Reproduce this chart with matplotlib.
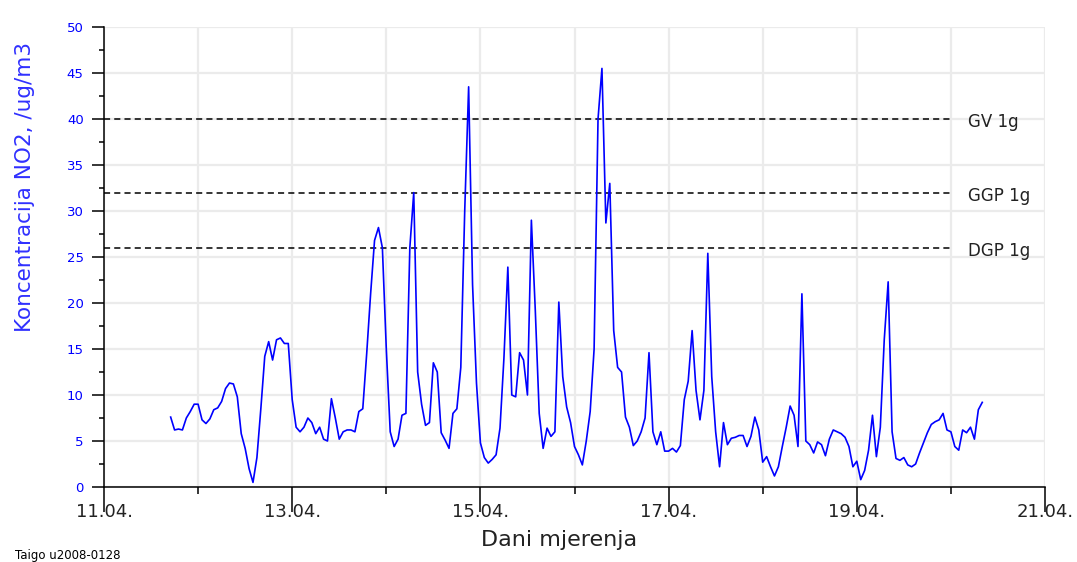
import matplotlib
matplotlib.use("Agg")
import matplotlib.pyplot as plt
import matplotlib.dates as mdates
import matplotlib.ticker as mticker
import pandas as pd

# Hourly NO2 concentrations (ug/m3), starting 11.04.2008 17:00
no2_11 = [7.6, 6.2, 6.3, 6.2, 7.5, 8.2, 9.0]
no2_12 = [9.0, 7.3, 6.9, 7.4, 8.4, 8.6, 9.3, 10.7, 11.3, 11.2, 9.8, 5.8,
          4.2, 2.0, 0.5, 3.2, 8.5, 14.2, 15.8, 13.8, 16.0, 16.2, 15.6, 15.6]
no2_13 = [9.5, 6.5, 6.0, 6.5, 7.5, 7.0, 5.8, 6.5, 5.2, 5.0, 9.6, 7.5,
          5.2, 6.0, 6.2, 6.2, 6.0, 8.2, 8.5, 14.5, 21.0, 26.8, 28.2, 26.0]
no2_14 = [15.0, 6.0, 4.4, 5.2, 7.8, 8.0, 26.0, 32.0, 12.5, 9.0, 6.7, 7.0,
          13.5, 12.5, 5.9, 5.1, 4.2, 8.0, 8.5, 13.0, 30.0, 43.5, 22.0, 11.3]
no2_15 = [4.8, 3.2, 2.6, 3.0, 3.5, 6.4, 14.0, 23.9, 10.0, 9.8, 14.6, 13.8,
          10.0, 29.0, 19.2, 8.0, 4.2, 6.4, 5.5, 6.0, 20.1, 12.0, 8.7, 7.0]
no2_16 = [4.4, 3.5, 2.4, 5.0, 8.2, 15.0, 40.0, 45.5, 28.7, 33.0, 17.0, 13.0,
          12.5, 7.6, 6.5, 4.5, 5.0, 6.0, 7.5, 14.6, 6.0, 4.6, 6.0, 3.9]
no2_17 = [3.9, 4.2, 3.8, 4.5, 9.5, 11.5, 17.0, 10.5, 7.3, 10.5, 25.4, 12.0,
          6.0, 2.2, 7.0, 4.6, 5.3, 5.4, 5.6, 5.6, 4.4, 5.5, 7.6, 6.2]
no2_18 = [2.7, 3.3, 2.2, 1.2, 2.2, 4.4, 6.5, 8.8, 7.8, 4.4, 21.0, 5.0,
          4.6, 3.7, 4.9, 4.6, 3.4, 5.2, 6.2, 6.0, 5.8, 5.4, 4.4, 2.2]
no2_19 = [2.8, 0.8, 1.8, 4.0, 7.8, 3.3, 6.5, 16.0, 22.3, 6.0, 3.1, 2.9,
          3.2, 2.4, 2.2, 2.5, 3.7, 4.8, 5.9, 6.8, 7.1, 7.3, 8.0, 6.2]
no2_20 = [6.0, 4.4, 4.0, 6.2, 5.9, 6.5, 5.2, 8.4, 9.2]

no2 = no2_11 + no2_12 + no2_13 + no2_14 + no2_15 + no2_16 + no2_17 + no2_18 + no2_19 + no2_20
times = pd.date_range("2008-04-11 17:00", periods=len(no2), freq="h")

# Limit values
limit_values = [40, 32, 26]
limit_labels = ["GV 1g", "GGP 1g", "DGP 1g"]

x_start = pd.Timestamp("2008-04-11")
x_end = pd.Timestamp("2008-04-21")
limit_end = pd.Timestamp("2008-04-20")

blue = "#0000ff"
dark = "#222222"

fig = plt.figure(figsize=(10.77, 5.62), dpi=100)
ax = fig.add_axes([104 / 1077, 1 - 487 / 562, (1045 - 104) / 1077, (487 - 27) / 562])

ax.plot(times, no2, color=blue, lw=1.2, zorder=3)

for val, lab in zip(limit_values, limit_labels):
    ax.plot([x_start, limit_end], [val, val], color="black", lw=1.1,
            ls=(0, (4, 2.7)), zorder=2)
    ax.annotate(lab, xy=(mdates.date2num(limit_end), val), xytext=(12, -2.2),
                textcoords="offset points", ha="left", va="center",
                fontsize=12, color=dark, annotation_clip=False)

ax.set_xlim(x_start, x_end)
ax.set_ylim(0, 50)

ax.xaxis.set_major_locator(mdates.DayLocator(bymonthday=[11, 13, 15, 17, 19, 21]))
ax.xaxis.set_minor_locator(mdates.DayLocator(bymonthday=[12, 14, 16, 18, 20]))
ax.xaxis.set_major_formatter(mdates.DateFormatter("%d.%m."))
ax.yaxis.set_major_locator(mticker.MultipleLocator(5))
ax.yaxis.set_minor_locator(mticker.MultipleLocator(2.5))

ax.grid(which="both", axis="x", color="#ebebeb", lw=1.6, zorder=0)
ax.grid(which="major", axis="y", color="#ebebeb", lw=1.6, zorder=0)
ax.set_axisbelow(True)

for side in ("top", "right"):
    ax.spines[side].set_visible(False)
for side in ("left", "bottom"):
    ax.spines[side].set_linewidth(1.1)
    ax.spines[side].set_color("black")

ax.tick_params(axis="x", which="major", direction="out", length=18, width=1.1,
               pad=-6.5, labelsize=13, labelcolor=dark)
ax.tick_params(axis="x", which="minor", direction="out", length=5, width=1.1)
ax.tick_params(axis="y", which="major", direction="out", length=8.6, width=1.1,
               pad=6, labelsize=9.5, labelcolor=blue)
ax.tick_params(axis="y", which="minor", direction="out", length=3.6, width=1.1)

fig.text(25 / 1077, 1 - 187 / 562, "Koncentracija NO2, /ug/m3", rotation=90,
         ha="center", va="center", fontsize=15.5, color="#3030ff")
fig.text(559 / 1077, 1 - 540 / 562, "Dani mjerenja", ha="center", va="center",
         fontsize=16, color=dark)
fig.text(15 / 1077, 1 - 555 / 562, "Taigo u2008-0128", ha="left", va="center",
         fontsize=8.5, color="black")

fig.savefig("out.png", dpi=100, facecolor="white")
